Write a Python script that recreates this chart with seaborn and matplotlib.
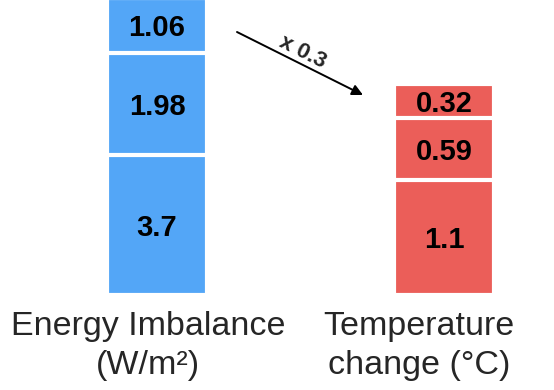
import numpy as np
import matplotlib.pyplot as plt
import seaborn as sns

# ── data ────────────────────────────────────────────────────
categories = ["Energy Imbalance\n(W/m²)", "Temperature\nchange (°C)"]

# segment heights as drawn (bottom -> top) and the numbers printed on them
energy_heights = [2.7, 1.98, 1.06]
energy_labels = ["3.7", "1.98", "1.06"]
temp_heights = [1.1, 0.59, 0.32]
temp_labels = ["1.1", "0.59", "0.32"]
factor_label = "x 0.3"

BLUE = "#53A6F7"
RED = "#EB5E59"

sns.set_style("white")
plt.rcParams["font.family"] = ["Liberation Sans", "DejaVu Sans"]

fig = plt.figure(figsize=(5.54, 3.90), dpi=100)
ax = fig.add_axes([0, 95 / 390, 1, 295 / 390])
ax2 = ax.twinx()


def stacked(axis, heights, labels, cat, color):
    tops = np.cumsum(heights)
    # draw from tallest to shortest so the white edges split the stack
    for top in tops[::-1]:
        sns.barplot(x=[cat], y=[top], order=categories, color=color,
                    saturation=1, width=0.348, edgecolor="white",
                    linewidth=3, errorbar=None, ax=axis)
    bottoms = tops - np.array(heights)
    xpos = categories.index(cat)
    for b, h, lab in zip(bottoms, heights, labels):
        axis.text(xpos, b + h / 2, lab, ha="center", va="center_baseline",
                  fontsize=21, fontweight="bold", color="black")


stacked(ax, energy_heights, energy_labels, categories[0], BLUE)
stacked(ax2, temp_heights, temp_labels, categories[1], RED)

ax.set_xlim(-0.547, 1.383)
ax.set_ylim(0, 5.70)
ax2.set_ylim(0, 2.81)
ax.axis("off")
ax2.axis("off")

# category labels under the bars
label_shift = [-0.031, -0.087]
for i, cat in enumerate(categories):
    ax.text(i + label_shift[i], -0.055, cat, transform=ax.get_xaxis_transform(),
            ha="center", va="top", fontsize=24.5, linespacing=1.32)

# scaling arrow
ax.annotate("", xy=(363 / 554, 1 - 95 / 390), xytext=(237 / 554, 1 - 32 / 390),
            xycoords="figure fraction", textcoords="figure fraction",
            arrowprops=dict(arrowstyle="-|>", color="black", lw=1.4,
                            mutation_scale=16, shrinkA=0, shrinkB=0))
fig.text(303 / 554, 1 - 52 / 390, factor_label, rotation=-26.6,
         rotation_mode="anchor", ha="center", va="center",
         fontsize=16, fontweight="bold")

fig.savefig("out.png", dpi=100)
